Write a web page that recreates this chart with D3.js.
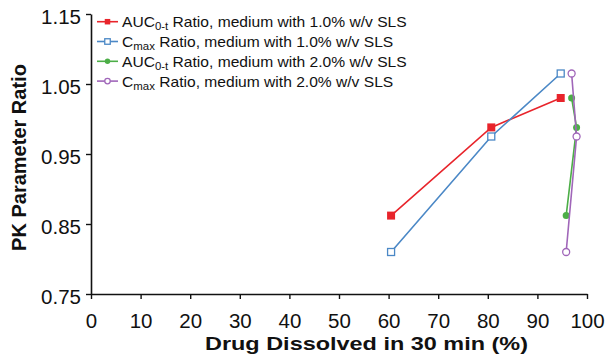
<!DOCTYPE html>
<html>
<head>
<meta charset="utf-8">
<script src="https://cdn.jsdelivr.net/npm/d3@7"></script>
<style>
  html, body { margin: 0; padding: 0; background: #fff; }
  svg { display: block; font-family: "Liberation Sans", Arial, sans-serif; }
</style>
</head>
<body>
<svg id="chart" width="609" height="356"></svg>
<script>
// Dissolution (%) at 30 min vs. PK parameter ratio, per dissolution medium
const auc1x = [60.5, 80.7, 94.7];
const auc1y = [0.862, 0.988, 1.030];
const cmax1x = [60.5, 80.7, 94.7];
const cmax1y = [0.810, 0.975, 1.065];
const auc2x = [95.8, 97.9, 96.9];
const auc2y = [0.862, 0.988, 1.030];
const cmax2x = [95.8, 97.9, 96.9];
const cmax2y = [0.810, 0.975, 1.065];

const xTicks = [0, 10, 20, 30, 40, 50, 60, 70, 80, 90, 100];
const yTicks = [0.75, 0.85, 0.95, 1.05, 1.15];

const seriesNames = ["AUC|0-t| Ratio, medium with 1.0% w/v SLS",
                     "C|max| Ratio, medium with 1.0% w/v SLS",
                     "AUC|0-t| Ratio, medium with 2.0% w/v SLS",
                     "C|max| Ratio, medium with 2.0% w/v SLS"];
const seriesColors = ["#e8242b", "#4b88c6", "#4cae47", "#a066b9"];
const seriesMarkers = ["squareFilled", "squareOpen", "circleFilled", "circleOpen"];

const series = [
  {x: auc1x, y: auc1y},
  {x: cmax1x, y: cmax1y},
  {x: auc2x, y: auc2y},
  {x: cmax2x, y: cmax2y}
].map((s, i) => ({
  name: seriesNames[i], color: seriesColors[i], marker: seriesMarkers[i],
  pts: s.x.map((v, j) => [v, s.y[j]])
}));

const svg = d3.select("#chart");
const x = d3.scaleLinear().domain([0, 100]).range([91, 587]);
const y = d3.scaleLinear().domain([0.75, 1.15]).range([294, 14]);

// axes
const xAxis = svg.append("g").attr("transform", "translate(0,294)")
  .call(d3.axisBottom(x).tickValues(xTicks).tickSize(5).tickPadding(14).tickSizeOuter(0));
const yAxis = svg.append("g").attr("transform", "translate(91,0)")
  .call(d3.axisLeft(y).tickValues(yTicks).tickFormat(d3.format(".2f")).tickSize(5).tickPadding(5).tickSizeOuter(0));
[xAxis, yAxis].forEach(a => {
  a.select(".domain").attr("stroke", "#111").attr("stroke-width", 1.6);
  a.selectAll(".tick line").attr("stroke", "#111").attr("stroke-width", 1.4);
  a.selectAll(".tick text").attr("fill", "#111").style("font-size", "20.5px")
    .style("font-family", "'Liberation Sans', Arial, sans-serif");
});
xAxis.selectAll(".tick text").attr("dy", "0.71em");
yAxis.selectAll(".tick text").attr("dy", "0.45em");

// axis titles (the horizontal title is set in a wide face, so it is stretched)
svg.append("text").attr("x", 205).attr("y", 350)
  .attr("textLength", 323).attr("lengthAdjust", "spacingAndGlyphs")
  .style("font-size", "19px").style("font-weight", "bold").attr("fill", "#111")
  .text("Drug Dissolved in 30 min (%)");
svg.append("text").attr("transform", "translate(26,157.5) rotate(-90)").attr("text-anchor", "middle")
  .style("font-size", "20px").style("font-weight", "bold").attr("fill", "#111")
  .text("PK Parameter Ratio");

function drawMarker(g, type, color, cx, cy, size) {
  const h = size / 2;
  if (type.startsWith("square")) {
    g.append("rect").attr("x", cx - h).attr("y", cy - h).attr("width", size).attr("height", size)
      .attr("fill", type === "squareFilled" ? color : "#fff")
      .attr("stroke", color).attr("stroke-width", type === "squareFilled" ? 0 : 1.3);
  } else {
    g.append("circle").attr("cx", cx).attr("cy", cy).attr("r", h)
      .attr("fill", type === "circleFilled" ? color : "#fff")
      .attr("stroke", color).attr("stroke-width", type === "circleFilled" ? 0 : 1.3);
  }
}

const line = d3.line().x(d => x(d[0])).y(d => y(d[1]));
series.forEach(s => {
  const g = svg.append("g");
  g.append("path").attr("d", line(s.pts)).attr("fill", "none")
    .attr("stroke", s.color).attr("stroke-width", 1.6);
  s.pts.forEach(p => drawMarker(g, s.marker, s.color, x(p[0]), y(p[1]),
    s.marker === "squareFilled" ? 8 : 7));
});

// legend
const legend = svg.append("g");
series.forEach((s, i) => {
  const ly = 21.7 + i * 19.8;
  legend.append("line").attr("x1", 97).attr("x2", 118).attr("y1", ly).attr("y2", ly)
    .attr("stroke", s.color).attr("stroke-width", 1.6);
  drawMarker(legend, s.marker, s.color, 107.5, ly, 5.5);
  const parts = s.name.split("|");
  const t = legend.append("text").attr("transform", `translate(122,${ly}) scale(1.04,1)`)
    .attr("dy", "0.36em").style("font-size", "15px").attr("fill", "#111");
  t.append("tspan").text(parts[0]);
  t.append("tspan").attr("dy", "3").style("font-size", "11px").text(parts[1]);
  t.append("tspan").attr("dy", "-3").text(parts[2]);
});
</script>
</body>
</html>
